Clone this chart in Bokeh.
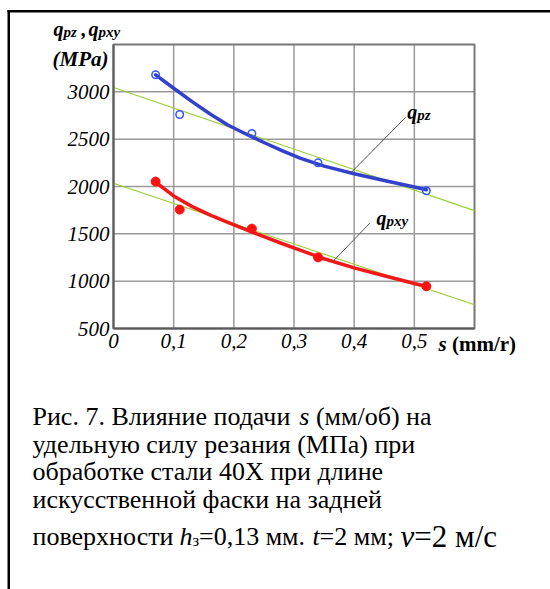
from bokeh.plotting import figure
from bokeh.models import Label, FixedTicker, LinearAxis, Range1d
from bokeh.embed import file_html
from bokeh.resources import INLINE

# Measured points: feed s (mm/r) and specific cutting force (MPa)
s_pts = [0.07, 0.11, 0.23, 0.34, 0.52]
q_pz = [3180, 2760, 2560, 2250, 1955]
q_pxy = [2052, 1756, 1555, 1251, 946]

# Smoothed regression curves
fit_s = [0.07, 0.10, 0.13, 0.16, 0.19, 0.22, 0.25, 0.28, 0.31, 0.35, 0.40, 0.45, 0.50, 0.52]
fit_pz = [3180, 3038, 2900, 2768, 2650, 2555, 2465, 2380, 2300, 2215, 2135, 2063, 1994, 1965]
fit_pxy = [2045, 1900, 1790, 1700, 1620, 1545, 1470, 1398, 1328, 1237, 1140, 1057, 976, 945]

# Linear trend lines over the full feed range
trend_s = [0.0, 0.6]
trend_pz = [3045, 1745]
trend_pxy = [2035, 750]

x_ticks = [0, 0.1, 0.2, 0.3, 0.4, 0.5]
x_tick_labels = ["0", "0,1", "0,2", "0,3", "0,4", "0,5"]
y_ticks = [500, 1000, 1500, 2000, 2500, 3000]
x_lim = (0.0, 0.6)
y_lim = (500, 3500)

W, H = 550, 589
FL, FR, FT, FB = 113, 474, 44, 328  # chart area edges on the page (px)

SERIF = "Liberation Serif"


def X(px):
    return x_lim[0] + (px - FL) * (x_lim[1] - x_lim[0]) / (FR - FL)


def Y(py):
    return y_lim[0] + (FB - py) * (y_lim[1] - y_lim[0]) / (FB - FT)


# the drawing area covers the whole page; the chart sits inside it
p = figure(width=W, height=H, x_range=Range1d(X(0), X(W)), y_range=Range1d(Y(H), Y(0)),
           output_backend="svg", toolbar_location=None, title=None,
           x_axis_location=None, y_axis_location=None,
           min_border=0, min_border_left=0, min_border_right=0,
           min_border_top=0, min_border_bottom=0)
p.background_fill_color = "white"
p.border_fill_color = "white"
p.outline_line_color = None
p.xgrid.visible = False
p.ygrid.visible = False

# grid
p.segment(x0=x_ticks[1:], y0=[y_lim[0]] * 5, x1=x_ticks[1:], y1=[y_lim[1]] * 5,
          line_color="#9a9a9a", line_width=1.5)
p.segment(x0=[x_lim[0]] * 5, y0=y_ticks[1:], x1=[x_lim[1]] * 5, y1=y_ticks[1:],
          line_color="#9a9a9a", line_width=1.5)
p.quad(left=[x_lim[0]], right=[x_lim[1]], bottom=[y_lim[0]], top=[y_lim[1]],
       fill_color=None, line_color="#777777", line_width=2)

xaxis = LinearAxis(fixed_location=y_lim[0], bounds=x_lim, ticker=FixedTicker(ticks=x_ticks),
                   major_label_overrides={t: l for t, l in zip(x_ticks, x_tick_labels)},
                   major_label_standoff=5)
yaxis = LinearAxis(fixed_location=x_lim[0], bounds=y_lim, ticker=FixedTicker(ticks=y_ticks),
                   major_label_standoff=4)
for ax in (xaxis, yaxis):
    ax.major_tick_in = 0
    ax.major_tick_out = 0
    ax.minor_tick_in = 0
    ax.minor_tick_out = 0
    ax.axis_line_color = "#5a5a5a"
    ax.axis_line_width = 2
    ax.major_label_text_font = SERIF
    ax.major_label_text_font_style = "italic"
    ax.major_label_text_font_size = "21px"
    ax.major_label_text_color = "black"
p.add_layout(xaxis, "below")
p.add_layout(yaxis, "left")

# trend lines
p.line(trend_s, trend_pz, line_color="#9acd32", line_width=1.1)
p.line(trend_s, trend_pxy, line_color="#9acd32", line_width=1.1)

# regression curves
p.line(fit_s, fit_pz, line_color="#3340cc", line_width=3.5, line_join="round", line_cap="round")
p.line(fit_s, fit_pxy, line_color="#f01818", line_width=3.5, line_join="round", line_cap="round")

# measured points
p.scatter(s_pts, q_pz, marker="circle", size=7.5, fill_color="white", fill_alpha=0,
          line_color="#3355ff", line_width=1.5)
p.scatter(s_pts, q_pxy, marker="circle", size=9, fill_color="#ff1010",
          line_color="#ff1010")

# leader lines to the curve names
p.segment(x0=[X(351), X(332.7)], y0=[Y(171.7), Y(260.7)],
          x1=[X(405), X(369.3)], y1=[Y(117), Y(222.7)],
          line_color="#555555", line_width=1)


def lab(px, py, text, size, style="normal", align="left", baseline="alphabetic"):
    p.add_layout(Label(x=X(px), y=Y(py), text=text, text_font=SERIF,
                       text_font_size=f"{size}px", text_font_style=style,
                       text_align=align, text_baseline=baseline,
                       text_color="black"))


# curve names
lab(406.7, 111, "q", 20, "bold italic")
lab(416.7, 114.5, "pz", 15, "bold italic")
lab(376, 217, "q", 20, "bold italic")
lab(386, 220.5, "pxy", 15, "bold italic")

# axis titles
lab(53, 28, "q", 20, "bold italic")
lab(63, 31.5, "pz", 15, "bold italic")
lab(81, 28, ",", 20, "bold italic")
lab(88, 28, "q", 20, "bold italic")
lab(98, 31.5, "pxy", 15, "bold italic")
lab(52, 58, "(MPa)", 21, "bold italic")
lab(438, 343, "s", 21, "bold italic")
lab(451.4, 343, "(mm/r)", 21, "bold")

# figure caption
F = 26
lab(32, 416, "Рис. 7. Влияние подачи", F)
lab(298.8, 416, "s", F, "italic")
lab(315.4, 416, "(мм/об) на", F)
lab(32, 443.5, "удельную силу резания (МПа) при", F)
lab(32, 471, "обработке стали 40Х при длине", F)
lab(32, 499, "искусственной фаски на задней", F)
lab(32, 536, "поверхности", F)
lab(179, 536, "h", F, "italic")
lab(192, 540, "з", 17)
lab(198.5, 536, "=0,13 мм.", F)
lab(311.9, 536, "t", F, "italic")
lab(319.1, 536, "=2 мм;", F)
lab(400, 536, "v", 31, "italic")
lab(413.8, 536, "=2 м/с", 31)

# page frame around the figure block
p.quad(left=[X(7), X(7)], right=[X(9.5), X(W + 5)], bottom=[Y(H + 5), Y(12)],
       top=[Y(9.5), Y(9.5)], fill_color="black", line_color=None)

open("out.html", "w").write(file_html(p, INLINE))
